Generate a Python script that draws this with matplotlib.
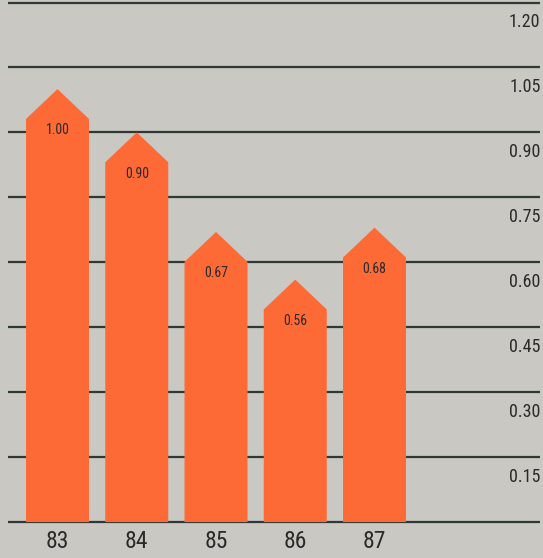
import matplotlib
matplotlib.use('Agg')

import matplotlib.pyplot as plt
from matplotlib import font_manager
import numpy as np

# Data
years = ['83', '84', '85', '86', '87']
values = [1.00, 0.90, 0.67, 0.56, 0.68]
grid_levels = [0.15, 0.30, 0.45, 0.60, 0.75, 0.90, 1.05, 1.20]

BG = '#cac8c3'
BAR = '#fd6a35'
LINE = '#2e3834'
TEXT = '#2a2a2a'

# Prefer a narrow face if one is installed
names = {f.name for f in font_manager.fontManager.ttflist}
FONT = [n for n in ['Liberation Sans Narrow', 'DejaVu Sans Condensed',
                    'Roboto Condensed'] if n in names] + ['DejaVu Sans']

BAR_W = 0.795      # bar width in category units
ROOF = 0.069       # height of the pointed roof in value units

fig = plt.figure(figsize=(5.43, 5.58), dpi=100, facecolor=BG)
ax = fig.add_axes([0, 0, 1, 1], facecolor=BG)
ax.set_xlim(-0.7256, 6.126)
ax.set_ylim(-0.083, 1.2058)
ax.axis('off')

x = np.arange(len(years))
x_left, x_right = -0.625, 6.09   # horizontal extent of the rules

# Rules at each level, plus the baseline
for lv in [0.0] + grid_levels:
    ax.plot([x_left, x_right], [lv, lv], color=LINE, lw=1.6, zorder=1,
            solid_capstyle='butt')

txt = dict(family=FONT, stretch='condensed', color=TEXT)

for lv in grid_levels:
    ax.text(x_right + 0.005, lv - 0.046, f'{lv:.2f}', ha='right', va='center',
            fontsize=13, **txt)

# Arrow-shaped bars: rectangle topped by a point at the value
for xi, v, yr in zip(x, values, years):
    hw = BAR_W / 2
    px = [xi - hw, xi - hw, xi, xi + hw, xi + hw]
    py = [0, v - ROOF, v, v - ROOF, 0]
    ax.fill(px, py, color=BAR, lw=0, zorder=2)
    ax.text(xi, v - 0.095, f'{v:.2f}', ha='center', va='center',
            fontsize=10, zorder=3, **txt)
    ax.text(xi, -0.044, yr, ha='center', va='center', fontsize=17, **txt)

fig.savefig('out.png', dpi=100, facecolor=BG)
plt.close(fig)
